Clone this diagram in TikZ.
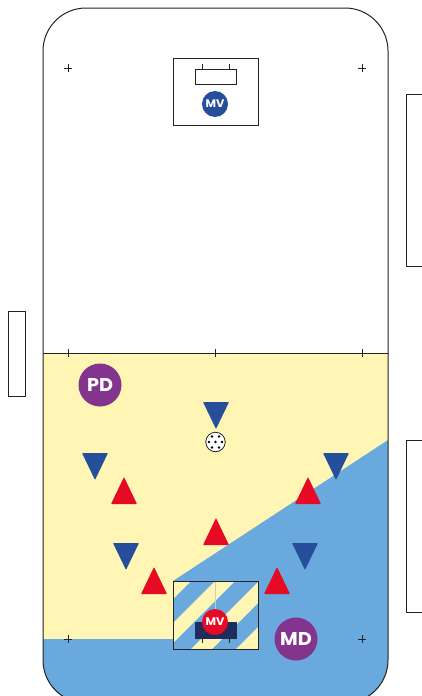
\documentclass[tikz,border=0pt]{standalone}
\usepackage{fontspec}
\setmainfont{Poppins}[FakeStretch=1.04]
\usepackage{xcolor}
\usetikzlibrary{positioning}
\definecolor{sandc}{HTML}{FFF5B4}
\definecolor{zonec}{HTML}{69A9DE}
\definecolor{bluec}{HTML}{254E9B}
\definecolor{redc}{HTML}{E70A24}
\definecolor{purplec}{HTML}{83348C}
\definecolor{navyc}{HTML}{1F2C5C}
\definecolor{linec}{HTML}{222222}

\begin{document}
\begin{tikzpicture}[
    x=1pt, y=-1pt,
    outline/.style = {draw=linec, line width=1pt},
    coach/.style   = {circle, fill=purplec, text=white, minimum size=43pt, inner sep=0pt,
                      font=\fontsize{18.5}{18.5}\selectfont\bfseries},
    keeper/.style  = {circle, text=white, minimum size=26pt, inner sep=0pt,
                      font=\fontsize{11}{11}\selectfont\bfseries},
    cross/.style   = {line width=0.8pt, draw=linec}
  ]
  \useasboundingbox (0,0) rectangle (421,696);

  % ----------------------------------------------------------------
  % Field
  % ----------------------------------------------------------------
  \begin{scope}
    \clip[rounded corners=43pt] (43,8) rectangle (388,703);
    \fill[sandc] (43,353) rectangle (388,703);
    \fill[zonec] (43,639) -- (173,639) -- (173,581) -- (388,440) -- (388,703) -- (43,703) -- cycle;
  \end{scope}
  \draw[outline, rounded corners=43pt] (43,8) rectangle (388,703);
  \draw[outline] (43,353) -- (388,353);

  % Crosses
  \foreach \xx/\yy in {68/68, 362/68, 68/639, 362/639}{
    \draw[cross] (\xx-4,\yy) -- (\xx+4,\yy) (\xx,\yy-4) -- (\xx,\yy+4);
  }
  \foreach \xx in {68, 215, 362}{
    \draw[cross] (\xx,349) -- (\xx,357);
  }

  % ----------------------------------------------------------------
  % Side boxes
  % ----------------------------------------------------------------
  \draw[outline] (8.5,311) rectangle (25,396);
  \draw[outline] (422,94.5) -- (406.5,94.5) -- (406.5,266) -- (422,266);
  \draw[outline] (422,440.5) -- (406.5,440.5) -- (406.5,612) -- (422,612);

  % ----------------------------------------------------------------
  % Top goal
  % ----------------------------------------------------------------
  \draw[outline] (173,58) rectangle (258,125.5);
  \draw[outline] (195,69) rectangle (236,84);
  \draw[cross] (202,64) -- (202,69) (229,64) -- (229,69);
  \node[keeper, fill=bluec] (mvtop) at (215,104) {MV};

  % ----------------------------------------------------------------
  % Bottom goal, striped
  % ----------------------------------------------------------------
  \begin{scope}
    \clip (173,581) rectangle (258,649);
    \fill[zonec] (173,581) rectangle (258,649);
    \foreach \sa/\sb in {740/772, 796/816, 840/861, 885/915}{
      \fill[sandc] (\sa-649,649) -- (\sb-649,649) -- (\sb-581,581) -- (\sa-581,581) -- cycle;
    }
  \end{scope}
  \draw[line width=0.6pt, black!20] (215,581) -- (215,612);
  \draw[outline] (173,581) rectangle (258,649);
  \fill[navyc] (194.5,622) rectangle (237,638.5);
  \draw[cross] (202,638) -- (202,643) (229,638) -- (229,643);
  \node[keeper, fill=redc] (mvbot) at (215,622) {MV};

  % ----------------------------------------------------------------
  % Coaches
  % ----------------------------------------------------------------
  \node[coach] (pd) at (100,385) {PD};
  \node[coach] (md) at (296,639) {MD};

  % ----------------------------------------------------------------
  % Players: blue down, red up
  % ----------------------------------------------------------------
  \foreach \xx/\yy in {216/402, 95/453, 336/453, 126/543, 305/543}{
    \fill[bluec, rounded corners=0.8pt] (\xx-13,\yy) -- (\xx+13,\yy) -- (\xx,\yy+27) -- cycle;
  }
  \foreach \xx/\yy in {124/504, 308/504, 216/545, 154/594, 277/594}{
    \fill[redc, rounded corners=0.8pt] (\xx-13,\yy) -- (\xx+13,\yy) -- (\xx,\yy-27) -- cycle;
  }

  % ----------------------------------------------------------------
  % Ball
  % ----------------------------------------------------------------
  \node[circle, draw=linec, fill=white, line width=0.8pt, minimum size=19.5pt, inner sep=0pt] (ball) at (215.5,442) {};
  \foreach \dx/\dy in {-3.5/-5.5, 3.5/-5.5, -6.5/0, 0/0, 6.5/0, -3.5/5.5, 3.5/5.5}{
    \fill[black] (215.5+\dx,442+\dy) circle (1.4pt);
  }
\end{tikzpicture}
\end{document}
